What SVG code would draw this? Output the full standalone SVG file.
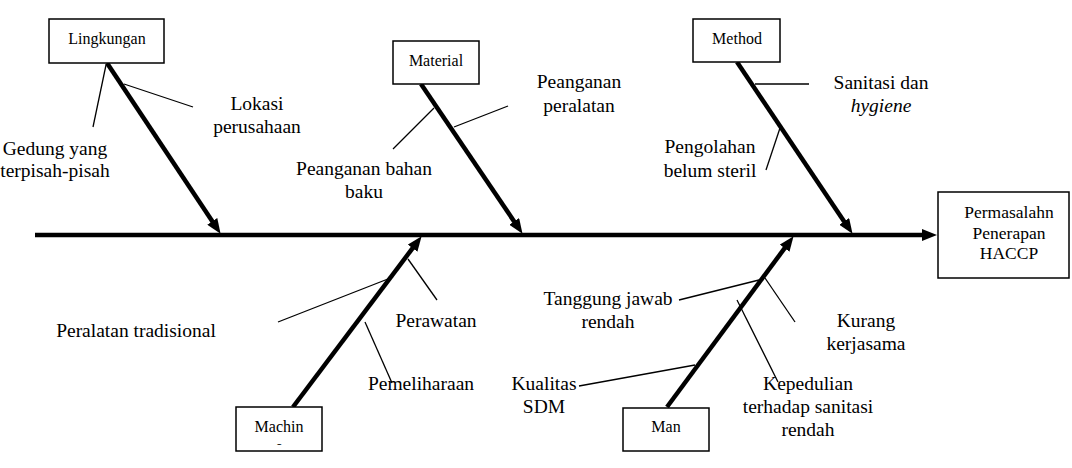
<svg xmlns="http://www.w3.org/2000/svg" width="1072" height="468" viewBox="0 0 1072 468">
<style>
text{font-family:"Times New Roman","Liberation Serif",Tinos,"DejaVu Serif",serif;fill:#000;text-anchor:middle}
.bt{font-size:16px}
.rt{font-size:17.5px}
.lb{font-size:19.5px}
.box{fill:#fff;stroke:#000;stroke-width:1.5}
.bone{stroke:#000;stroke-width:4.5;fill:none;marker-end:url(#ah)}
.sub{stroke:#000;stroke-width:1.3;fill:none}
</style>
<defs>
<marker id="ah" markerUnits="userSpaceOnUse" markerWidth="15" markerHeight="12" refX="6" refY="6" orient="auto">
<path d="M0,0 L15,6 L0,12 z" fill="#000"/>
</marker>
<clipPath id="mclip"><rect x="236" y="407" width="86" height="38"/></clipPath>
</defs>
<g id="connectors">
<line class="bone" x1="35" y1="235" x2="928" y2="235"/>
<line class="bone" x1="107" y1="63" x2="215.6" y2="226.3"/>
<line class="bone" x1="421" y1="84" x2="517.5" y2="226.4"/>
<line class="bone" x1="737" y1="62" x2="847.5" y2="226.4"/>
<line class="bone" x1="293" y1="407" x2="416.2" y2="243.4"/>
<line class="bone" x1="667" y1="407" x2="788.2" y2="243.4"/>
<line class="sub" x1="106" y1="65" x2="93" y2="127"/>
<line class="sub" x1="124" y1="84" x2="193" y2="107"/>
<line class="sub" x1="434" y1="108" x2="393" y2="149"/>
<line class="sub" x1="454" y1="127" x2="508" y2="106"/>
<line class="sub" x1="755" y1="84" x2="809" y2="84"/>
<line class="sub" x1="780" y1="128" x2="766" y2="170"/>
<line class="sub" x1="393" y1="277" x2="278" y2="322"/>
<line class="sub" x1="408" y1="259" x2="437" y2="300"/>
<line class="sub" x1="365" y1="322" x2="392" y2="383"/>
<line class="sub" x1="679" y1="300" x2="759" y2="280"/>
<line class="sub" x1="765" y1="278" x2="795" y2="322"/>
<line class="sub" x1="737" y1="300" x2="778" y2="382"/>
<line class="sub" x1="579" y1="386" x2="695" y2="365"/>
</g>
<g id="lingkungan">
<rect class="box" x="49" y="19" width="115" height="44"/>
<text class="bt" x="107" y="44">Lingkungan</text>
</g>
<g id="material">
<rect class="box" x="393" y="41" width="86" height="43"/>
<text class="bt" x="436" y="66">Material</text>
</g>
<g id="method">
<rect class="box" x="693" y="19" width="87" height="43"/>
<text class="bt" x="737" y="44">Method</text>
</g>
<g id="machine">
<rect class="box" x="236" y="407" width="86" height="44"/>
<text class="bt" x="279" y="432">Machin</text>
<text class="bt" x="279" y="452" clip-path="url(#mclip)">e</text>
</g>
<g id="man">
<rect class="box" x="623" y="408" width="86" height="43"/>
<text class="bt" x="666" y="432">Man</text>
</g>
<g id="result">
<rect class="box" x="938" y="192" width="131" height="86"/>
<text class="rt" x="1009" y="218">Permasalahn</text>
<text class="rt" x="1009" y="239">Penerapan</text>
<text class="rt" x="1009" y="259">HACCP</text>
</g>
<g id="labels">
<text class="lb" x="257" y="110">Lokasi</text>
<text class="lb" x="257" y="133">perusahaan</text>
<text class="lb" x="55" y="155">Gedung yang</text>
<text class="lb" x="55" y="177">terpisah-pisah</text>
<text class="lb" x="579" y="88">Peanganan</text>
<text class="lb" x="579" y="112">peralatan</text>
<text class="lb" x="364" y="175">Peanganan bahan</text>
<text class="lb" x="364" y="198">baku</text>
<text class="lb" x="881" y="89">Sanitasi dan</text>
<text class="lb" x="881" y="112" font-style="italic">hygiene</text>
<text class="lb" x="710" y="153">Pengolahan</text>
<text class="lb" x="710" y="177">belum steril</text>
<text class="lb" x="136" y="337">Peralatan tradisional</text>
<text class="lb" x="436" y="327">Perawatan</text>
<text class="lb" x="421" y="390">Pemeliharaan</text>
<text class="lb" x="608" y="305">Tanggung jawab</text>
<text class="lb" x="608" y="328">rendah</text>
<text class="lb" x="866" y="327">Kurang</text>
<text class="lb" x="866" y="350">kerjasama</text>
<text class="lb" x="544" y="390">Kualitas</text>
<text class="lb" x="544" y="413">SDM</text>
<text class="lb" x="808" y="390">Kepedulian</text>
<text class="lb" x="808" y="413">terhadap sanitasi</text>
<text class="lb" x="808" y="436">rendah</text>
</g>
</svg>
